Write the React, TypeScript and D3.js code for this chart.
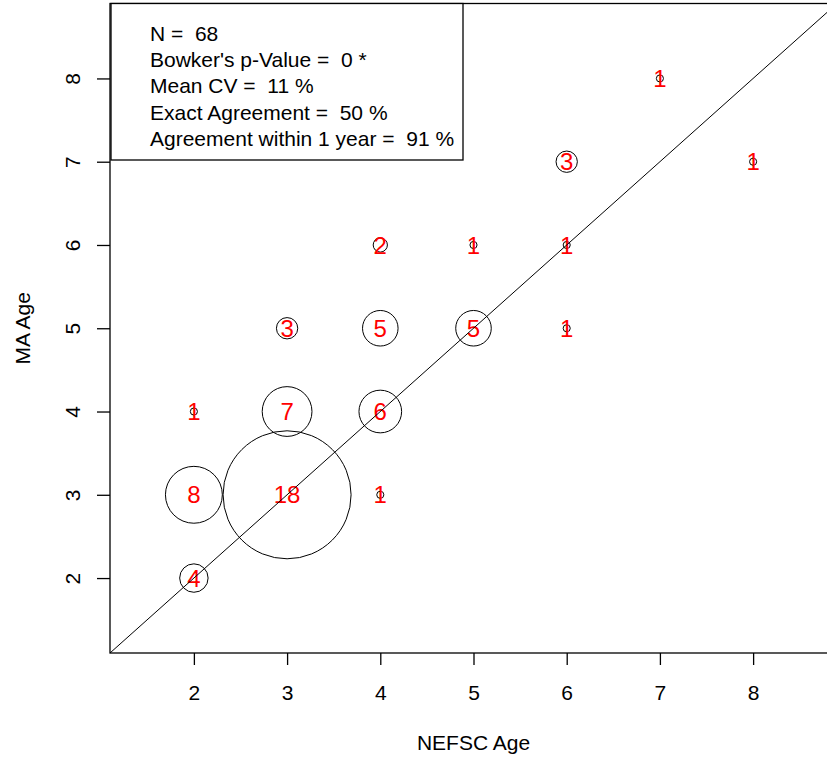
import { useEffect, useRef } from 'react';
import * as d3 from 'd3';

// age pairs: NEFSC age, MA age and how many fish had that pair
const nefscAge = [2, 2, 2, 3, 3, 3, 4, 4, 4, 4, 5, 5, 6, 6, 6, 7, 8];
const maAge = [2, 3, 4, 3, 4, 5, 3, 4, 5, 6, 5, 6, 5, 6, 7, 8, 7];
const counts = [4, 8, 1, 18, 7, 3, 1, 6, 5, 2, 5, 1, 1, 1, 3, 1, 1];
const tickValues = [2, 3, 4, 5, 6, 7, 8];
const statLines = [
  'N =  68',
  "Bowker's p-Value =  0 *",
  'Mean CV =  11 %',
  'Exact Agreement =  50 %',
  'Agreement within 1 year =  91 %',
];

export default function App() {
  const svgRef = useRef<SVGSVGElement>(null);

  useEffect(() => {
    const svg = d3.select(svgRef.current);
    svg.selectAll('*').remove();

    const font = '"Liberation Sans", Arial, sans-serif';
    const left = 110;
    const top = 3.5;
    const bottom = 653;
    const right = 837;

    const x = d3.scaleLinear().domain([1.1, 8.9]).range([left, right]);
    const y = d3.scaleLinear().domain([1.1, 8.9]).range([bottom, top]);
    // circle radius grows linearly with the count
    const r = d3.scaleLinear().domain([0, 18]).range([0, 64]);

    // circles
    svg
      .append('g')
      .selectAll('circle')
      .data(counts)
      .enter()
      .append('circle')
      .attr('cx', (d, i) => x(nefscAge[i]))
      .attr('cy', (d, i) => y(maAge[i]))
      .attr('r', (d) => r(d))
      .attr('fill', 'none')
      .attr('stroke', '#000')
      .attr('stroke-width', 1);

    // count labels
    svg
      .append('g')
      .selectAll('text')
      .data(counts)
      .enter()
      .append('text')
      .attr('x', (d, i) => x(nefscAge[i]))
      .attr('y', (d, i) => y(maAge[i]) + 8.7)
      .attr('text-anchor', 'middle')
      .attr('fill', '#ff0000')
      .style('font-family', font)
      .style('font-size', '24px')
      .text((d) => d);

    // 1:1 line
    svg
      .append('line')
      .attr('x1', x(1.1))
      .attr('y1', y(1.1))
      .attr('x2', x(8.9))
      .attr('y2', y(8.9))
      .attr('stroke', '#000')
      .attr('stroke-width', 1);

    // plot box
    svg
      .append('rect')
      .attr('x', left)
      .attr('y', top)
      .attr('width', right - left)
      .attr('height', bottom - top)
      .attr('fill', 'none')
      .attr('stroke', '#000')
      .attr('stroke-width', 1.3);

    // x axis
    const xAxis = svg
      .append('g')
      .attr('transform', `translate(0,${bottom})`)
      .call(d3.axisBottom(x).tickValues(tickValues).tickSize(12).tickPadding(5).tickFormat(d3.format('d')));
    xAxis.select('.domain').remove();
    xAxis.selectAll('line').attr('stroke-width', 1.3);
    xAxis
      .selectAll('text')
      .attr('y', 47)
      .attr('dy', null)
      .attr('fill', '#000')
      .style('font-family', font)
      .style('font-size', '21px');

    // y axis, labels turned sideways
    const yAxis = svg
      .append('g')
      .attr('transform', `translate(${left},0)`)
      .call(d3.axisLeft(y).tickValues(tickValues).tickSize(13).tickFormat(d3.format('d')));
    yAxis.select('.domain').remove();
    yAxis.selectAll('line').attr('stroke-width', 1.3);
    yAxis
      .selectAll('text')
      .attr('x', null)
      .attr('dy', null)
      .attr('text-anchor', 'middle')
      .attr('transform', 'translate(-30,0) rotate(-90)')
      .attr('fill', '#000')
      .style('font-family', font)
      .style('font-size', '21px');

    // axis titles
    svg
      .append('text')
      .attr('x', (left + right) / 2)
      .attr('y', 750)
      .attr('text-anchor', 'middle')
      .style('font-family', font)
      .style('font-size', '21px')
      .text('NEFSC Age');
    svg
      .append('text')
      .attr('transform', `translate(30,${(top + bottom) / 2}) rotate(-90)`)
      .attr('text-anchor', 'middle')
      .style('font-family', font)
      .style('font-size', '21px')
      .text('MA Age');

    // stats box
    const legend = svg.append('g');
    legend
      .append('rect')
      .attr('x', 111)
      .attr('y', top)
      .attr('width', 352)
      .attr('height', 156.5)
      .attr('fill', '#fff')
      .attr('stroke', '#000')
      .attr('stroke-width', 1.3);
    legend
      .selectAll('text')
      .data(statLines)
      .enter()
      .append('text')
      .attr('x', 150)
      .attr('y', (d, i) => 40.5 + i * 26.4)
      .style('font-family', font)
      .style('font-size', '21px')
      .style('white-space', 'pre')
      .text((d) => d);
  }, []);

  return (
    <svg
      ref={svgRef}
      width={827}
      height={763}
      style={{ position: 'absolute', left: 0, top: 0, background: '#fff' }}
    ></svg>
  );
}
